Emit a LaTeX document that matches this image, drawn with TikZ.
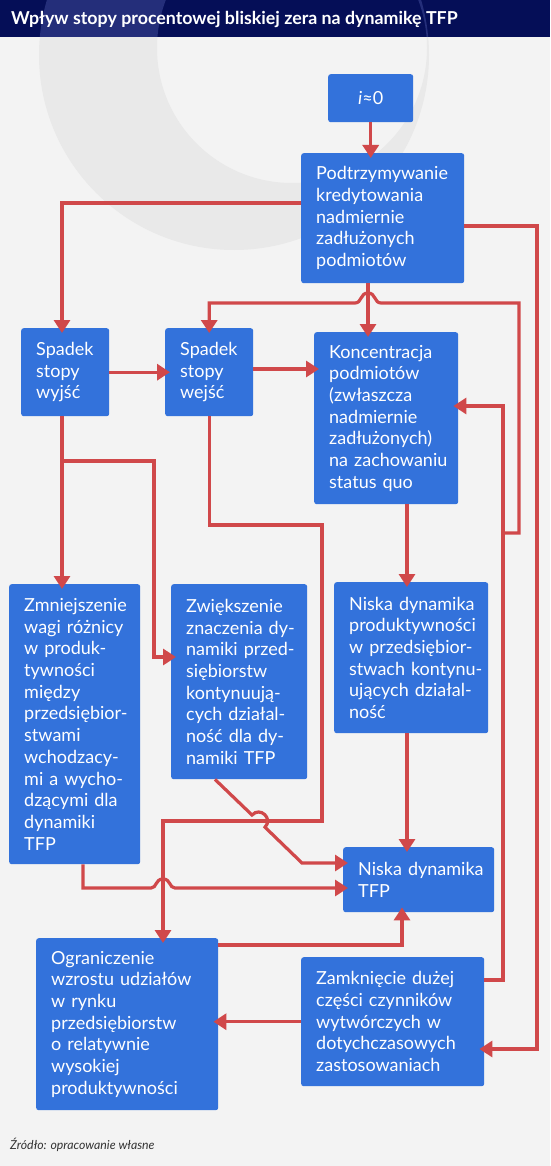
\documentclass[tikz,border=0pt]{standalone}
\usepackage{fontspec}
\setmainfont{Lato}
\usetikzlibrary{arrows.meta,positioning}

\definecolor{boxblue}{RGB}{51,114,219}
\definecolor{linered}{RGB}{208,72,74}
\definecolor{bggray}{RGB}{243,243,243}
\definecolor{ringgray}{RGB}{233,233,233}
\definecolor{barnavy}{RGB}{5,14,87}
\definecolor{barring}{RGB}{36,46,122}
\hyphenpenalty=10000
\exhyphenpenalty=10000

\begin{document}
\begin{tikzpicture}[x=1pt, y=-1pt,
    box/.style={fill=boxblue, rounded corners=2.5pt, text=white, align=left,
        anchor=north west, inner xsep=15pt, inner ysep=0pt,
        font=\fontsize{18}{21.7}\selectfont},
    conn/.style={draw=linered, line width=3.2pt,
        -{Triangle[width=16pt,length=13pt]}, shorten >=-5pt}]
    \useasboundingbox (0,0) rectangle (550,1166);

    % Background and title bar
    \fill[bggray] (0,0) rectangle (550,1166);
    \begin{scope}
        \clip (0,37) rectangle (550,1166);
        \fill[ringgray, even odd rule] (234,55) circle[radius=195pt] (292,48) circle[radius=135pt];
    \end{scope}
    \fill[barnavy] (0,0) rectangle (550,37);
    \begin{scope}
        \clip (0,0) rectangle (550,37);
        \fill[barring, even odd rule] (234,55) circle[radius=195pt] (292,48) circle[radius=135pt];
    \end{scope}
    \node[anchor=west, inner sep=0pt, text=white, font=\bfseries\fontsize{17.8}{20}\selectfont] (title) at (11,19) {Wpływ stopy procentowej bliskiej zera na dynamikę TFP};

    % Nodes
    \node[box, align=center, text width=55pt, minimum height=48pt] (izero) at (328,74) {\textit{i}≈0};
    \node[box, text width=133pt, minimum height=130pt] (podtrz) at (301,153) {Podtrzymywanie\\kredytowania\\nadmiernie\\zadłużonych\\podmiotów};
    \node[box, text width=58pt, minimum height=88pt] (wyjsc) at (21,328) {Spadek\\stopy\\wyjść};
    \node[box, text width=58pt, minimum height=88pt] (wejsc) at (165,328) {Spadek\\stopy\\wejść};
    \node[box, text width=114pt, minimum height=172pt] (konc) at (314,332) {Koncentracja\\podmiotów\\(zwłaszcza\\nadmiernie\\zadłużonych)\\na~zachowaniu\\status~quo};
    \node[box, text width=101pt, minimum height=280pt] (zmniej) at (9,584) {Zmniejszenie\\wagi~różnicy\\w~produk-\\tywności\\między\\przedsiębior-\\stwami\\wchodzacy-\\mi~a~wycho-\\dzącymi~dla\\dynamiki\\TFP};
    \node[box, text width=106pt, minimum height=195pt] (zwiek) at (171,584) {Zwiększenie\\znaczenia~dy-\\namiki~przed-\\siębiorstw\\kontynuują-\\cych~działal-\\ność~dla~dy-\\namiki~TFP};
    \node[box, text width=124pt, minimum height=151pt] (nprod) at (334,582) {Niska~dynamika\\produktywności\\w~przedsiębior-\\stwach~kontynu-\\ujących~działal-\\ność};
    \node[box, text width=121pt, minimum height=65pt] (ntfp) at (343,847) {Niska~dynamika\\TFP};
    \node[box, text width=152pt, minimum height=172pt] (ogran) at (36,938) {Ograniczenie\\wzrostu~udziałów\\w~rynku\\przedsiębiorstw\\o~relatywnie\\wysokiej\\produktywności};
    \node[box, text width=153pt, minimum height=129pt] (zamk) at (301,957) {Zamknięcie~dużej\\części~czynników\\wytwórczych~w\\dotychczasowych\\zastosowaniach};

    % Helper points on the connectors
    \coordinate (wsplit) at (62,461);
    \coordinate (zloop) at (503,533);

    % Arrows from the top
    \draw[conn] (izero) -- (izero |- podtrz.north);
    \draw[conn] (podtrz.west |- 0,203) -| (wyjsc.north -| 62,0);
    \draw[conn] (podtrz.south -| 368,0) -- (konc.north -| 368,0);
    \draw[conn] (podtrz.east |- 0,226) -| (537,1049) -- (zamk.east |- 0,1049);

    % Zamkniecie back up (hop over the middle arrow)
    \draw[conn] (zamk.east |- 0,980) -| (503,406) -- (konc.east |- 0,406);
    \draw[conn] (zloop) -- (519,533) -- (519,303) -- (381,303)
        .. controls (374,303) and (376,293) .. (368,293)
        .. controls (360,293) and (362,303) .. (355,303) -| (wejsc.north);

    % Spadek boxes
    \draw[conn] (wyjsc) -- (wejsc);
    \draw[conn] (wejsc.east |- 0,369) -- (konc.west |- 0,369);
    \draw[conn] (wyjsc.south -| 62,0) -- (zmniej.north -| 62,0);
    \draw[conn] (wsplit) -| (154,657) -- (zwiek.west |- 0,657);
    \draw[conn] (wejsc.south) |- (322,525) |- (163,821) -- (ogran.north -| 163,0);

    % Into Niska dynamika TFP
    \draw[conn] (zwiek.south -| 215,0) -- (252,815)
        .. controls (260.3,806.2) and (273.3,818.6) .. (265,827.2) -- (302,863) -- (ntfp.west |- 0,863);
    \draw[conn] (zmniej.south -| 83,0) |- (151,888)
        .. controls (157,888) and (155,879) .. (163,879)
        .. controls (171,879) and (169,888) .. (175,888) -- (ntfp.west |- 0,888);
    \draw[conn] (konc.south -| 407,0) -- (nprod.north -| 407,0);
    \draw[conn] (nprod.south -| 407,0) -- (ntfp.north -| 407,0);
    \draw[conn] (ogran.east |- 0,945) -| (ntfp.south -| 402,0);
    \draw[conn] (zamk.west) -- (zamk.west -| ogran.east);

    % Source
    \node[anchor=base west, inner sep=0pt, text=black!80, font=\itshape\fontsize{12.3}{14}\selectfont] (src) at (10,1149) {Źródło: opracowanie własne};
\end{tikzpicture}
\end{document}
